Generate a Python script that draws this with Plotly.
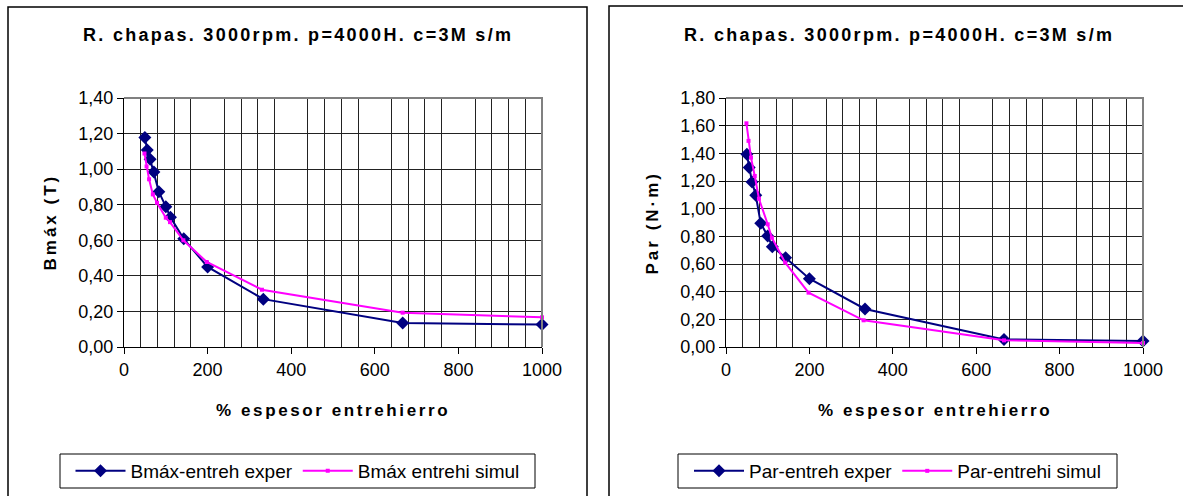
import plotly.graph_objects as go

# ---- data ----
x_exp = [50, 55.6, 62.5, 71.4, 83.3, 100, 111.1, 142.9, 200, 333.3, 666.7, 1000]
x_sim = [49, 54, 60, 69, 79, 100, 110, 142, 198, 330, 666.7, 1000]

bmax_exp = [1.178, 1.107, 1.056, 0.984, 0.873, 0.789, 0.730, 0.608, 0.450, 0.269, 0.135, 0.126]
bmax_sim = [1.088, 1.015, 0.943, 0.858, 0.811, 0.727, 0.702, 0.600, 0.478, 0.322, 0.193, 0.167]

par_exp = [1.393, 1.297, 1.193, 1.097, 0.894, 0.803, 0.725, 0.646, 0.494, 0.275, 0.055, 0.043]
par_sim = [1.617, 1.490, 1.369, 1.236, 1.072, 0.887, 0.790, 0.610, 0.393, 0.193, 0.048, 0.029]

title_txt = "R. chapas. 3000rpm. p=4000H. c=3M s/m"
xtitle_txt = "% espesor entrehierro"
names_left = ["Bmáx-entreh exper", "Bmáx entrehi simul"]
names_right = ["Par-entreh exper", "Par-entrehi simul"]
ytitle_left = "Bmáx (T)"
ytitle_right = "Par (N·m)"

W, H = 1183, 496
FONT = "Arial, Liberation Sans, sans-serif"
NAVY = "#000080"
MAG = "#FF00FF"


def px(x):
    return x / W


def py(y):
    return 1 - y / H


fig = go.Figure()


def add_series(xa, ya, xs, ys, names, xaxis, yaxis, legend):
    fig.add_trace(go.Scatter(x=xa, y=ya, name=names[0], mode="lines+markers",
                             line=dict(color=NAVY, width=2),
                             marker=dict(symbol="diamond", size=10, color=NAVY),
                             cliponaxis=False,
                             xaxis=xaxis, yaxis=yaxis, legend=legend))
    fig.add_trace(go.Scatter(x=xs, y=ys, name=names[1], mode="lines+markers",
                             line=dict(color=MAG, width=2),
                             marker=dict(symbol="square", size=4, color=MAG),
                             cliponaxis=False,
                             xaxis=xaxis, yaxis=yaxis, legend=legend))


add_series(x_exp, bmax_exp, x_sim, bmax_sim, names_left, "x", "y", "legend")
add_series(x_exp, par_exp, x_sim, par_sim, names_right, "x2", "y2", "legend2")

ydom = [py(347), py(98)]
xaxis_common = dict(range=[0, 1000], tickmode="linear", tick0=0, dtick=200,
                    showgrid=False, ticks="outside", ticklen=6, tickcolor="black",
                    showline=True, linecolor="black", linewidth=1,
                    tickfont=dict(family=FONT, size=18, color="black"),
                    minor=dict(dtick=40, showgrid=True, gridcolor="#222222", gridwidth=1,
                               ticks=""),
                    zeroline=False, fixedrange=True, automargin=False)
yaxis_common = dict(tickmode="linear", tick0=0, dtick=0.2, tickformat=".2f",
                    showgrid=True, gridcolor="#222222", gridwidth=1,
                    ticks="outside", ticklen=6, tickcolor="black",
                    showline=True, linecolor="black", linewidth=1,
                    tickfont=dict(family=FONT, size=18, color="black"),
                    zeroline=False, fixedrange=True, domain=ydom, automargin=False)

legend_common = dict(orientation="h", xanchor="center", y=py(471), yanchor="middle",
                     bgcolor="rgba(0,0,0,0)", borderwidth=0, itemwidth=50,
                     font=dict(family=FONT, size=19, color="black"), itemclick=False)

fig.update_layout(
    width=W, height=H,
    margin=dict(l=0, r=0, t=0, b=0, autoexpand=False),
    paper_bgcolor="white", plot_bgcolor="white",
    separators=", ",
    showlegend=True,
    xaxis=dict(xaxis_common, domain=[px(124), px(542)], anchor="y"),
    yaxis=dict(yaxis_common, range=[0, 1.4], anchor="x"),
    xaxis2=dict(xaxis_common, domain=[px(726), px(1143)], anchor="y2"),
    yaxis2=dict(yaxis_common, range=[0, 1.8], anchor="x2"),
    legend=dict(legend_common, x=px(297.5)),
    legend2=dict(legend_common, x=px(897.5)),
)

shapes = []
# chart frames
shapes.append(dict(type="rect", xref="paper", yref="paper", x0=px(8), x1=px(587),
                   y0=py(505), y1=py(7), line=dict(color="black", width=1.5)))
shapes.append(dict(type="rect", xref="paper", yref="paper", x0=px(609), x1=px(1190),
                   y0=py(505), y1=py(6), line=dict(color="black", width=1.5)))
# plot-area borders (gray): top and right edges
for (x0, x1, yt, yb) in ((124, 542, 98, 347), (726, 1143, 98, 347)):
    shapes.append(dict(type="path", xref="paper", yref="paper", layer="above",
                       path=f"M {px(x0)} {py(yt)} L {px(x1)} {py(yt)} L {px(x1)} {py(yb)}",
                       line=dict(color="#808080", width=2)))
# legend boxes
shapes.append(dict(type="rect", xref="paper", yref="paper", x0=px(60), x1=px(535),
                   y0=py(488), y1=py(454), line=dict(color="black", width=1)))
shapes.append(dict(type="rect", xref="paper", yref="paper", x0=px(678), x1=px(1117),
                   y0=py(488), y1=py(454), line=dict(color="black", width=1)))
fig.update_layout(shapes=shapes)


def sp(t, ls):
    return f'<span style="letter-spacing:{ls}px">{t}</span>'


ann = []
for cx in (297.5, 898.5):
    ann.append(dict(text="<b>" + sp(title_txt, 2.3) + "</b>", x=px(cx), y=py(35),
                    xref="paper", yref="paper", showarrow=False,
                    font=dict(family=FONT, size=18, color="black"),
                    xanchor="center", yanchor="middle"))
for cx in (333, 934.5):
    ann.append(dict(text="<b>" + sp(xtitle_txt, 2.6) + "</b>", x=px(cx), y=py(410),
                    xref="paper", yref="paper", showarrow=False,
                    font=dict(family=FONT, size=17, color="black"),
                    xanchor="center", yanchor="middle"))
for cx, t in ((50, ytitle_left), (652, ytitle_right)):
    ann.append(dict(text="<b>" + sp(t, 3) + "</b>", x=px(cx), y=py(222.5),
                    xref="paper", yref="paper", showarrow=False, textangle=-90,
                    font=dict(family=FONT, size=17, color="black"),
                    xanchor="center", yanchor="middle"))
fig.update_layout(annotations=ann)

fig.write_html("out.html")
